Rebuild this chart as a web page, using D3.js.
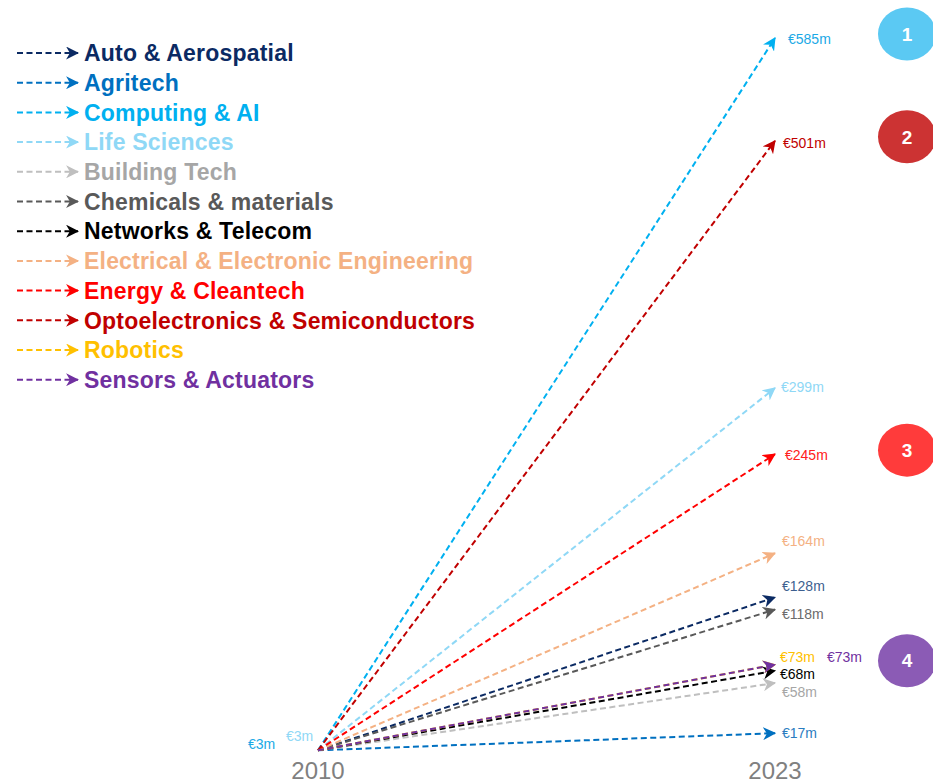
<!DOCTYPE html>
<html>
<head>
<meta charset="utf-8">
<script src="https://cdn.jsdelivr.net/npm/d3@7"></script>
<style>
  html, body { margin: 0; padding: 0; background: #fff; }
  svg { display: block; }
</style>
</head>
<body>
<svg id="chart" width="933" height="784"></svg>
<script>
// Investment per sector, 2010 vs 2023 (€ millions)
const years = [2010, 2023];
const sectors = [
  "Auto & Aerospatial", "Agritech", "Computing & AI", "Life Sciences",
  "Building Tech", "Chemicals & materials", "Networks & Telecom",
  "Electrical & Electronic Engineering", "Energy & Cleantech",
  "Optoelectronics & Semiconductors", "Robotics", "Sensors & Actuators"
];
const values2010 = [3, 3, 3, 3, 3, 3, 3, 3, 3, 3, 3, 3];
const values2023 = [128, 17, 585, 299, 58, 118, 68, 164, 245, 501, 73, 73];
const startLabels = ["Computing & AI", "Life Sciences"];
const rankedGroups = [1, 2, 3, 4];

// Styling
const lineColors = ["#0b2a63", "#0070c0", "#00b0f0", "#8fd8f6", "#bfbfbf", "#595959",
  "#000000", "#f4b183", "#ff0000", "#c00000", "#ffc000", "#7030a0"];
const textColors = ["#0b2a63", "#0070c0", "#00b0f0", "#8fd8f6", "#a6a6a6", "#595959",
  "#000000", "#f4b183", "#ff0000", "#c00000", "#ffc000", "#7030a0"];
const endLabelColors = ["#3d5f8f", "#2a7cc0", "#1aa9e6", "#8fd8f6", "#a6a6a6", "#6b6b6b",
  "#000000", "#f4b183", "#ff2020", "#c00000", "#ffc000", "#7030a0"];
const groupColors = ["#5bc9f3", "#cc3333", "#ff3b3b", "#8b5bb5"];

// Label nudges so close values stay readable: [dx, dy]
const endNudge = {
  "Auto & Aerospatial": [7, -11], "Agritech": [7, 0], "Computing & AI": [13, 1],
  "Life Sciences": [6, -1], "Building Tech": [7, 9], "Chemicals & materials": [7, 5],
  "Networks & Telecom": [5, 3], "Electrical & Electronic Engineering": [7, -12],
  "Energy & Cleantech": [10, 1], "Optoelectronics & Semiconductors": [8, 2],
  "Robotics": [5, -8], "Sensors & Actuators": [52, -8]
};
const groupY = [585, 501, 245, 73];

const svg = d3.select("#chart");
const x = d3.scaleLinear().domain(years).range([318, 775]);
const y = d3.scaleLinear().domain([0, 585]).range([754, 38]);

// Arrowhead markers, one per colour
const defs = svg.append("defs");
lineColors.forEach((c, i) => {
  defs.append("marker")
    .attr("id", "arrow" + i)
    .attr("viewBox", "0 0 12 12")
    .attr("refX", 11).attr("refY", 6)
    .attr("markerWidth", 13).attr("markerHeight", 13)
    .attr("markerUnits", "userSpaceOnUse")
    .attr("orient", "auto")
    .append("path")
    .attr("d", "M0,0 L12,6 L0,12 L3.5,6 Z")
    .attr("fill", c);
});

// Sector arrows from 2010 to 2023
const data = sectors.map((s, i) => ({ s, i, v0: values2010[i], v1: values2023[i] }));
svg.append("g").selectAll("line").data(data).join("line")
  .attr("x1", x(years[0])).attr("y1", d => y(d.v0))
  .attr("x2", x(years[1])).attr("y2", d => y(d.v1))
  .attr("stroke", d => lineColors[d.i])
  .attr("stroke-width", 2)
  .attr("stroke-dasharray", "6,3.5")
  .attr("marker-end", d => `url(#arrow${d.i})`);

// 2023 value labels
svg.append("g").selectAll("text").data(data).join("text")
  .attr("x", d => x(years[1]) + endNudge[d.s][0])
  .attr("y", d => y(d.v1) + endNudge[d.s][1])
  .attr("dy", "0.35em")
  .attr("fill", d => endLabelColors[d.i])
  .attr("font-family", "Liberation Sans, Arial, sans-serif")
  .attr("font-size", 14)
  .text(d => `€${d.v1}m`);

// 2010 value labels
const startData = data.filter(d => startLabels.includes(d.s));
const startPos = { "Computing & AI": [-70, -6], "Life Sciences": [-32, -14] };
svg.append("g").selectAll("text").data(startData).join("text")
  .attr("x", d => x(years[0]) + startPos[d.s][0])
  .attr("y", d => y(d.v0) + startPos[d.s][1])
  .attr("dy", "0.35em")
  .attr("fill", d => endLabelColors[d.i])
  .attr("font-family", "Liberation Sans, Arial, sans-serif")
  .attr("font-size", 14)
  .text(d => `€${d.v0}m`);

// Year axis labels
svg.append("g").selectAll("text").data(years).join("text")
  .attr("x", d => x(d)).attr("y", 779)
  .attr("text-anchor", "middle")
  .attr("fill", "#808080")
  .attr("font-family", "Liberation Sans, Arial, sans-serif")
  .attr("font-size", 24)
  .text(d => d);

// Ranking badges
const badges = svg.append("g").selectAll("g").data(rankedGroups).join("g")
  .attr("transform", (d, i) => `translate(907,${y(groupY[i]) - 4})`);
badges.append("ellipse").attr("rx", 29).attr("ry", 26.5)
  .attr("fill", (d, i) => groupColors[i]);
badges.append("text")
  .attr("text-anchor", "middle").attr("dy", "0.36em")
  .attr("fill", "#fff").attr("font-weight", "bold")
  .attr("font-family", "Liberation Sans, Arial, sans-serif")
  .attr("font-size", 19)
  .text(d => d);

// Legend
const legend = svg.append("g").selectAll("g").data(data).join("g")
  .attr("transform", d => `translate(0,${53 + d.i * 29.7})`);
legend.append("line")
  .attr("x1", 17).attr("x2", 78).attr("y1", 0).attr("y2", 0)
  .attr("stroke", d => lineColors[d.i]).attr("stroke-width", 2)
  .attr("stroke-dasharray", "6,3.5")
  .attr("marker-end", d => `url(#arrow${d.i})`);
legend.append("text")
  .attr("x", 84).attr("dy", "0.36em")
  .attr("fill", d => textColors[d.i])
  .attr("font-family", "Liberation Sans, Arial, sans-serif")
  .attr("font-weight", "bold")
  .attr("font-size", 23)
  .attr("letter-spacing", 0.2)
  .text(d => d.s);
</script>
</body>
</html>
